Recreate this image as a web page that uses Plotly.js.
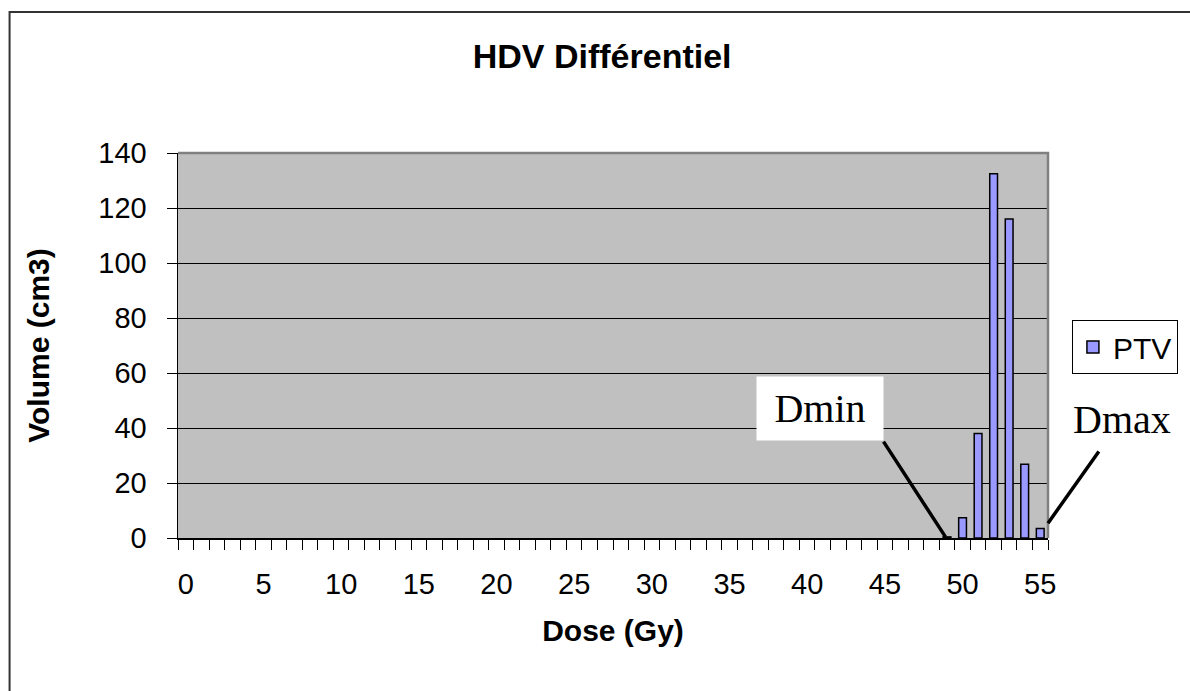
<!DOCTYPE html>
<html><head><meta charset="utf-8">
<script src="https://cdn.plot.ly/plotly-3.0.1.min.js"></script>
<style>html,body{margin:0;padding:0;background:#fff}#chart{width:1190px;height:691px}</style>
</head><body><div id="chart"></div>
<script>
// Dose categories (Gy)
const doses = [0,1,2,3,4,5,6,7,8,9,10,11,12,13,14,15,16,17,18,19,20,21,22,23,24,25,26,27,28,29,30,31,32,33,34,35,36,37,38,39,40,41,42,43,44,45,46,47,48,49,50,51,52,53,54,55];
// Differential volume (cm3) for PTV (null = no volume in that bin)
const volumes = [null,null,null,null,null,null,null,null,null,null,null,null,null,null,null,null,null,null,null,null,null,null,null,null,null,null,null,null,null,null,null,null,null,null,null,null,null,null,null,null,null,null,null,null,null,null,null,null,null,0.4,7.4,38,132.5,116,26.8,3.5];
const seriesName = 'PTV';
const xTickVals = [0,5,10,15,20,25,30,35,40,45,50,55];
const xTickText = ['0','5','10','15','20','25','30','35','40','45','50','55'];
const boundaries = doses.map(d => d - 0.5).concat([doses[doses.length-1] + 0.5]);
const dminDose = 49, dmaxDose = 55;

const FONT = 'Liberation Sans, Arial, sans-serif';
const SERIF = 'Liberation Serif, Times New Roman, serif';

const trace = {
  type: 'bar', x: doses, y: volumes, name: seriesName,
  marker: {color: '#9999FF', line: {color: '#000000', width: 1.5}},
  hoverinfo: 'x+y'
};

const layout = {
  width: 1190, height: 691,
  margin: {l: 178, r: 139, t: 153, b: 153},
  paper_bgcolor: '#ffffff', plot_bgcolor: '#C0C0C0',
  bargap: 0.5,
  showlegend: true,
  font: {family: FONT, color: '#000'},
  title: {text: 'HDV Différentiel', font: {family: FONT, size: 34, weight: 'bold', color: '#000'},
          xref: 'container', yref: 'container', x: 0.506, y: 0.919, xanchor: 'center', yanchor: 'middle'},
  xaxis: {
    range: [-0.5, 55.5], tickmode: 'array', tickvals: xTickVals, ticktext: xTickText,
    ticks: '', showline: true, linecolor: '#000', linewidth: 1.5, showgrid: false, zeroline: false,
    tickfont: {family: FONT, size: 29, color: '#000'}, ticklabelstandoff: 20,
    minor: {tickmode: 'array', tickvals: boundaries, ticks: 'outside', ticklen: 10, tickcolor: '#000', tickwidth: 1, showgrid: false},
    title: {text: 'Dose (Gy)', font: {family: FONT, size: 30, weight: 'bold', color: '#000'}, standoff: 20},
    fixedrange: true
  },
  yaxis: {
    range: [0, 140], tick0: 0, dtick: 20, ticks: 'outside', ticklen: 10, tickcolor: '#000', tickwidth: 1,
    showline: true, linecolor: '#000', linewidth: 1.5, showgrid: true, gridcolor: '#000', gridwidth: 1, zeroline: false,
    tickfont: {family: FONT, size: 29, color: '#000'}, ticklabelstandoff: 14,
    title: {text: 'Volume (cm3)', font: {family: FONT, size: 30, weight: 'bold', color: '#000'}, standoff: 40},
    fixedrange: true
  },
  legend: {
    x: 1.0275, y: 0.566, xanchor: 'left', yanchor: 'top',
    bgcolor: '#fff', bordercolor: '#000', borderwidth: 1,
    font: {family: FONT, size: 30, color: '#000'}
  },
  shapes: [
    // plot area border (top & right)
    {type: 'path', xref: 'paper', yref: 'paper', path: 'M 0 1 L 1 1 L 1 0', line: {color: '#808080', width: 2.5}, layer: 'above'},
    // outer chart frame
    {type: 'rect', xref: 'paper', yref: 'paper', x0: -0.1936, x1: 1.4, y0: -0.7, y1: 1.366, line: {color: '#333', width: 2}, fillcolor: 'rgba(0,0,0,0)', layer: 'above'}
  ],
  annotations: [
    {xref: 'paper', yref: 'paper', x: 0.7377, y: 0.3364, xanchor: 'center', yanchor: 'middle', text: 'Dmin',
     showarrow: false, font: {family: SERIF, size: 40, color: '#000'}, bgcolor: '#fff', width: 114, height: 51, borderpad: 6},
    {xref: 'paper', yref: 'paper', x: 1.0848, y: 0.3065, xanchor: 'center', yanchor: 'middle', text: 'Dmax',
     showarrow: false, font: {family: SERIF, size: 40, color: '#000'}},
    {x: dminDose - 0.1, y: 0.4, axref: 'x', ayref: 'y', ax: 44.85, ay: 35.6, text: '', showarrow: true,
     arrowhead: 0, arrowwidth: 3.5, arrowcolor: '#000', standoff: 0, startstandoff: 0},
    {x: dmaxDose + 0.5, y: 5.4, axref: 'x', ayref: 'y', ax: 58.84, ay: 32, text: '', showarrow: true,
     arrowhead: 0, arrowwidth: 3.5, arrowcolor: '#000', standoff: 0, startstandoff: 0}
  ]
};

Plotly.newPlot('chart', [trace], layout, {displayModeBar: false, staticPlot: true});
</script>
</body></html>
